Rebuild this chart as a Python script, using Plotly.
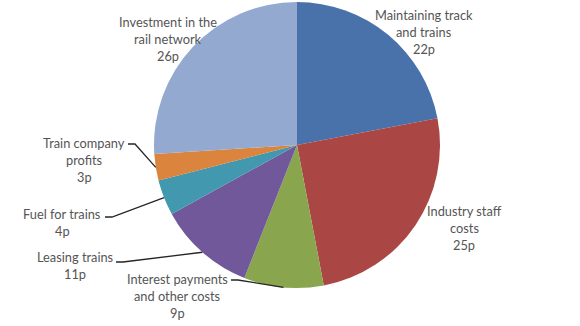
import math
import plotly.graph_objects as go

# Where each pound of rail fare goes (pence)
categories = [
    "Maintaining track and trains",
    "Industry staff costs",
    "Interest payments and other costs",
    "Leasing trains",
    "Fuel for trains",
    "Train company profits",
    "Investment in the rail network",
]
values = [22, 25, 9, 11, 4, 3, 26]
label_lines = [
    ["Maintaining track", "and trains"],
    ["Industry staff", "costs"],
    ["Interest payments", "and other costs"],
    ["Leasing trains"],
    ["Fuel for trains"],
    ["Train company", "profits"],
    ["Investment in the", "rail network"],
]
colors = ["#4A72AA", "#AA4643", "#89A54E", "#71589A", "#4198AF", "#DB843D", "#93A9D0"]

W, H = 580, 326
CX, CY, R = 297, 145, 143

# label block centre (px) and first-line y
label_pos = [
    (424, 15),
    (464, 211),
    (177, 279),
    (75, 257),
    (62, 214),
    (84, 143),
    (168, 22),
]
# leader lines: start point next to the text (px); None = no leader
leader_start = [None, None, (231, 280), (116, 262), (105, 217), (128, 144), None]

fig = go.Figure(
    go.Pie(
        labels=categories,
        values=values,
        sort=False,
        direction="clockwise",
        rotation=0,
        marker=dict(colors=colors, line=dict(width=0)),
        textinfo="none",
        hoverinfo="label+value",
        domain=dict(x=[(CX - R) / W, (CX + R) / W], y=[1 - (CY + R) / H, 1 - (CY - R) / H]),
        showlegend=False,
    )
)


def px(x, y):
    return x / W, 1 - y / H


FONT = dict(family="Lato, Carlito, Calibri, sans-serif", size=12.8, color="#555555")
LINE_H = 16.8

total = sum(values)
cum = 0
shapes = []
annotations = []
for i, v in enumerate(values):
    mid = (cum + v / 2) / total * 2 * math.pi
    cum += v
    lines = label_lines[i] + [f"{v}p"]
    lx, ly = label_pos[i]
    for j, t in enumerate(lines):
        x, y = px(lx, ly + j * LINE_H)
        annotations.append(
            dict(x=x, y=y, xref="paper", yref="paper", text=t, showarrow=False,
                 font=FONT, xanchor="center", yanchor="middle")
        )
    if leader_start[i] is not None:
        sx, sy = leader_start[i]
        tx = CX + R * math.sin(mid)
        ty = CY - R * math.cos(mid)
        ex, ey = sx + 7, sy
        a, b = px(sx, sy)
        c, d = px(ex, ey)
        e, f = px(tx, ty)
        shapes.append(
            dict(type="path", xref="paper", yref="paper",
                 path=f"M {a},{b} L {c},{d} L {e},{f}",
                 line=dict(color="#262626", width=1.3))
        )

fig.update_layout(
    width=W,
    height=H,
    margin=dict(l=0, r=0, t=0, b=0),
    paper_bgcolor="white",
    plot_bgcolor="white",
    annotations=annotations,
    shapes=shapes,
)

fig.write_html("out.html")
